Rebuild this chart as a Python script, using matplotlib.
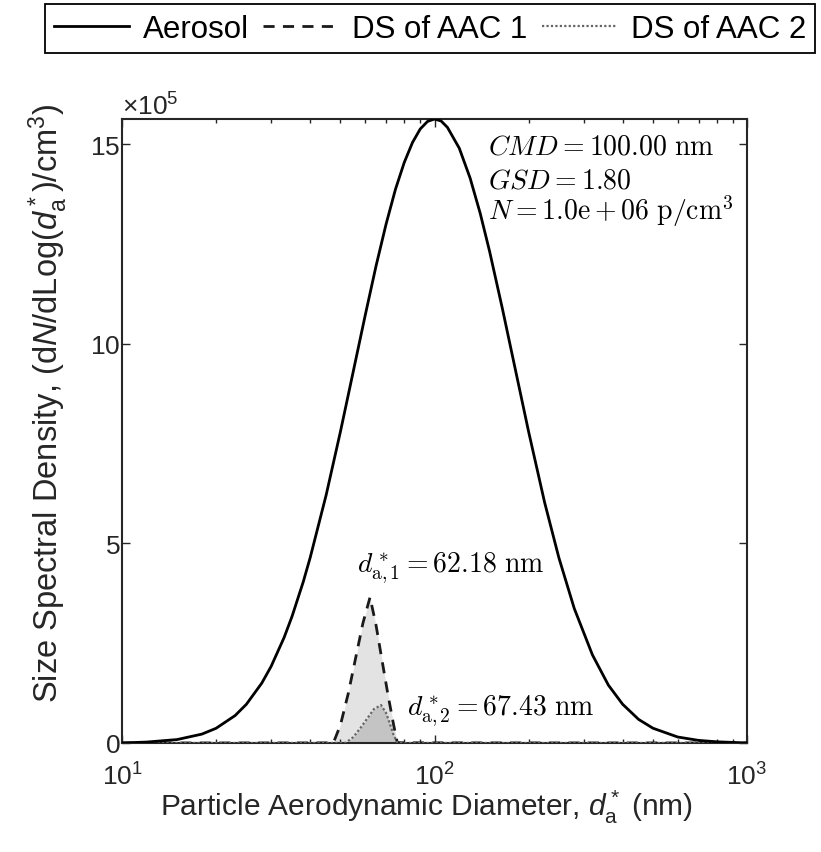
import numpy as np
import matplotlib
matplotlib.use("Agg")
import matplotlib.pyplot as plt
from matplotlib.ticker import ScalarFormatter

plt.rcParams['font.family'] = ['Liberation Sans', 'DejaVu Sans']
plt.rcParams['mathtext.fontset'] = 'custom'
plt.rcParams['mathtext.rm'] = 'Liberation Sans'
plt.rcParams['mathtext.it'] = 'Liberation Sans:italic'
plt.rcParams['mathtext.bf'] = 'Liberation Sans:bold'

# Aerosol size distribution, d in nm, dN/dlogd in p/cm^3
aero_d = [10, 12, 15, 18, 20, 23, 25, 28, 30, 33, 35, 38, 40, 45, 50, 55, 60, 65, 70, 75,
          80, 85, 90, 95, 100, 105, 110, 120, 130, 140, 150, 165, 180, 200, 225, 250,
          280, 320, 360, 400, 450, 500, 600, 700, 800, 1000]
aero_n = [70, 2330, 8550, 22160, 36800, 68600, 96900, 149800, 191800, 263800,
          317000, 403200, 464000, 621000, 780000, 932000, 1071000, 1195000,
          1300000, 1387000, 1454000, 1504000, 1538000, 1557000, 1563000, 1558000,
          1542000, 1490000, 1415000, 1327000, 1232000, 1087000, 948000, 780000,
          603000, 464000, 337000, 221000, 145000, 97000, 59000, 37000, 15000,
          6500, 3000, 70]

# Transfer function of AAC 1 applied to the aerosol
aac1_d = [10, 40, 45, 47.5, 50, 53, 56, 59, 62.18, 65, 68, 71, 74, 76, 80, 100, 1000]
aac1_n = [0, 200, 300, 1000, 45000, 125000, 215000, 300000, 365000, 295000,
          205000, 120000, 45000, 1000, 500, 300, 0]

# Transfer function of AAC 2 applied to the aerosol
aac2_d = [10, 45, 52, 55, 58, 61, 64, 67.43, 70, 72, 74, 76, 80, 1000]
aac2_n = [0, 0, 500, 15000, 38000, 62000, 85000, 95000, 75000, 48000, 20000,
          1000, 0, 0]

cmd, gsd, n_tot = 100.00, 1.80, 1.0e6
peak1, peak2 = 62.18, 67.43

fig = plt.figure(figsize=(8.21, 8.53), dpi=100)
ax = fig.add_axes([0.1486, 0.1278, 0.7613, 0.7315])

ax.fill_between(aac1_d, 0, aac1_n, color='#e3e3e3', lw=0, zorder=1)
ax.fill_between(aac2_d, 0, aac2_n, color='#c4c4c4', lw=0, zorder=2)
ax.plot(aero_d, aero_n, color='black', lw=2, label='Aerosol', zorder=4)
ax.plot(aac1_d, aac1_n, color='#1a1a1a', lw=2, ls=(0, (4, 3)), label='DS of AAC 1', zorder=3)
ax.plot(aac2_d, aac2_n, color='#666666', lw=1.6, ls=(0, (1, 1)), label='DS of AAC 2', zorder=3)

ax.set_xscale('log')
ax.set_xlim(10, 1000)
ax.set_ylim(0, max(aero_n))
ax.set_yticks([0, 5e5, 10e5, 15e5])

fmt = ScalarFormatter(useMathText=True)
fmt.set_powerlimits((5, 5))
ax.yaxis.set_major_formatter(fmt)
ax.yaxis.get_offset_text().set_fontsize(19)
ax.yaxis.get_offset_text().set_color('#262626')

ax.tick_params(which='both', direction='in', top=True, right=True, colors='#262626',
               labelsize=19, width=1.0)
ax.tick_params(which='major', length=6)
ax.tick_params(which='minor', length=3)
ax.tick_params(axis='x', which='major', pad=14)
ax.tick_params(axis='y', which='major', pad=1)
for s in ax.spines.values():
    s.set_linewidth(1.5)
    s.set_color('#262626')

ax.set_xlabel(r'Particle Aerodynamic Diameter, $d^*_{\rm a}$ (nm)', fontsize=21.5,
              color='#262626')
ax.set_ylabel(r'Size Spectral Density, (d$N$/dLog($d^*_{\rm a}$)/cm$^3$)', fontsize=23.5,
              color='#262626')
ax.xaxis.set_label_coords(0.487, -0.072)
ax.yaxis.set_label_coords(-0.083, 0.546)

tkw = dict(fontsize=20, math_fontfamily='cm', color='black', va='baseline')
ax.text(0.5856, 0.944, r'$CMD = 100.00\ \mathrm{nm}$', transform=ax.transAxes, **tkw)
ax.text(0.5856, 0.891, r'$GSD = 1.80$', transform=ax.transAxes, **tkw)
ax.text(0.5856, 0.840, r'$N = 1.0\mathrm{e}+06\ \mathrm{p/cm}^3$', transform=ax.transAxes,
        **tkw)
ax.text(56.5, 4.31e5, r'$d^*_{\mathrm{a},1} = %.2f\ \mathrm{nm}$' % peak1, **tkw)
ax.text(81.6, 0.726e5, r'$d^*_{\mathrm{a},2} = %.2f\ \mathrm{nm}$' % peak2, **tkw)

leg = fig.legend(loc='center', bbox_to_anchor=(0.5238, 0.965), ncol=3, fontsize=22.5,
                 fancybox=False, edgecolor='black', framealpha=1, handlelength=2.4,
                 columnspacing=0.45, handletextpad=0.45, borderpad=0.3,
                 borderaxespad=0)
leg.get_frame().set_linewidth(1.3)

fig.savefig('out.png', dpi=100)
